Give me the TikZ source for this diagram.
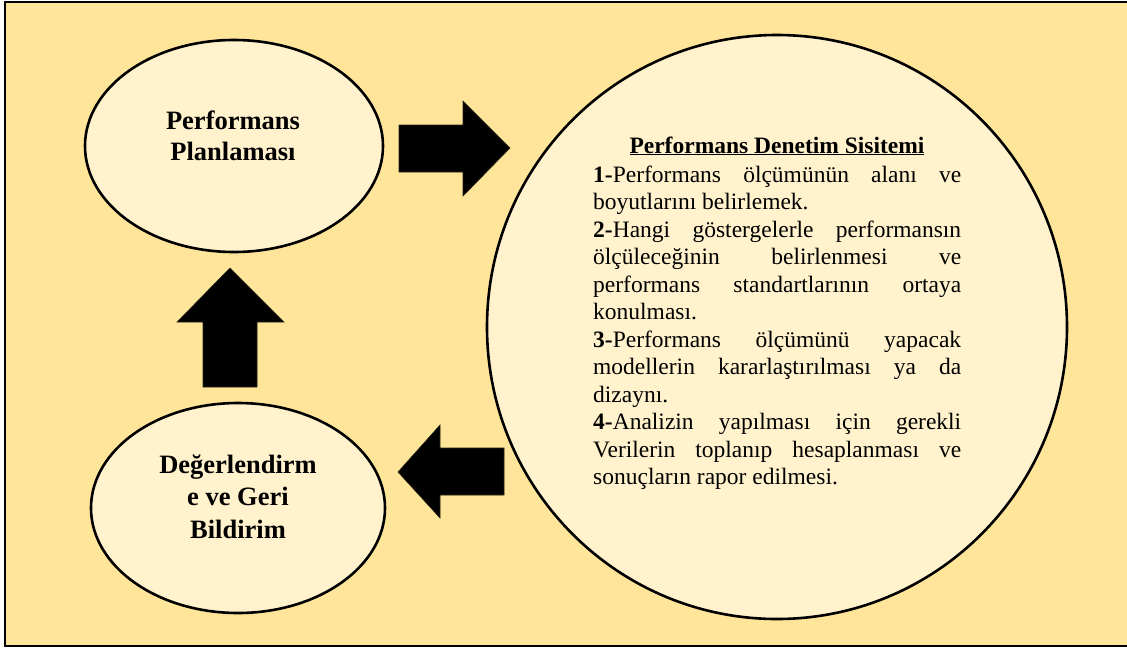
\documentclass[tikz,border=0pt]{standalone}
\usepackage{fontspec}
\setmainfont{Liberation Serif}
\usetikzlibrary{shapes.geometric}
\definecolor{panelgold}{HTML}{FFE599}
\definecolor{bubble}{HTML}{FFF2CC}

\begin{document}
\begin{tikzpicture}[x=1pt, y=-1pt,
  bubblestyle/.style={ellipse, draw=black, line width=2.6pt, fill=bubble, inner sep=0pt},
  labeltext/.style={font=\fontsize{26.5}{32}\selectfont\bfseries, align=center, anchor=base, inner sep=0pt},
  bodytext/.style={font=\fontsize{23.5}{27.5}\selectfont, inner sep=0pt},
  blockarrow/.style={fill=black, draw=black!85!panelgold, line width=0.6pt},
]
\useasboundingbox (0,0) rectangle (1127,648);

% panel
\draw[fill=panelgold, line width=2.2pt] (5,2) rectangle (1140,646);

% bubbles
\node[bubblestyle, minimum width=298pt, minimum height=212pt] (plan) at (234,146) {};
\node[bubblestyle, minimum width=294pt, minimum height=210pt] (eval) at (238,508) {};
\node[bubblestyle, minimum width=580pt, minimum height=584pt] (audit) at (777,327) {};

% bubble labels (base anchor sits on the last line)
\node[labeltext, font=\fontsize{26.5}{31}\selectfont\bfseries] (plantext) at (233,160) {Performans\\Planlaması};
\node[labeltext, font=\fontsize{26.5}{32.5}\selectfont\bfseries] (evaltext) at (238,538) {Değerlendirm\\e ve Geri\\Bildirim};

% audit system text
\node[bodytext, font=\fontsize{23.5}{27.5}\selectfont\bfseries, anchor=base] (title) at (777,153)
  {\underline{Performans Denetim Sisitemi}};
\node[bodytext, anchor=base west, text width=368pt, align=justify] (steps) at (593,182) {%
  \tolerance=10000\hbadness=10000
  \textbf{1-}Performans ölçümünün alanı ve\linebreak boyutlarını belirlemek.\par
  \textbf{2-}Hangi göstergelerle performansın\linebreak ölçüleceğinin belirlenmesi ve\linebreak
  performans standartlarının ortaya\linebreak konulması.\par
  \textbf{3-}Performans ölçümünü yapacak\linebreak modellerin kararlaştırılması ya da\linebreak dizaynı.\par
  \textbf{4-}Analizin yapılması için gerekli\linebreak Verilerin toplanıp hesaplanması ve\linebreak
  sonuçların rapor edilmesi.\par};

% block arrows
\path[blockarrow] (399,125) -- (463,125) -- (463,101) -- (510,148) -- (463,196)
  -- (463,172) -- (399,172) -- cycle;
\path[blockarrow] (230,268) -- (284,322) -- (257,322) -- (257,387) -- (203,387)
  -- (203,322) -- (177,322) -- cycle;
\path[blockarrow] (398,472) -- (440,425) -- (440,448) -- (504,448) -- (504,495)
  -- (440,495) -- (440,518) -- cycle;
\end{tikzpicture}
\end{document}
